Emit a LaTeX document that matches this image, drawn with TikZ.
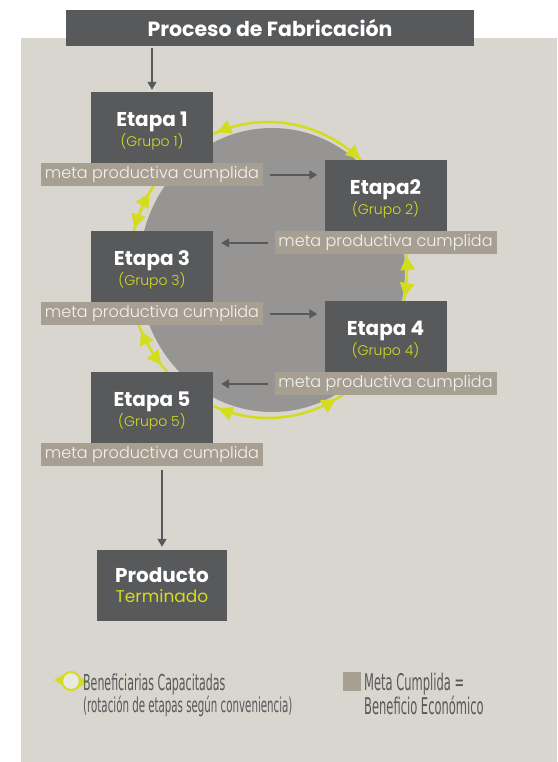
\documentclass[tikz,border=0pt]{standalone}
\usepackage{fontspec}
\setmainfont{Poppins}
\newfontfamily\ligera{Poppins Light}
\newfontfamily\estrecha{DejaVu Sans}[FakeStretch=0.5]
\usepackage{tikz}
\usetikzlibrary{arrows.meta,positioning,decorations.markings}
\definecolor{fondo}{RGB}{217,213,207}
\definecolor{cajagris}{RGB}{88,89,91}
\definecolor{metacafe}{RGB}{168,159,147}
\definecolor{circulogris}{RGB}{150,149,147}
\definecolor{amarillo}{RGB}{212,220,30}
\definecolor{textoclaro}{RGB}{245,243,240}
\definecolor{iconoclaro}{RGB}{234,232,228}
\tikzstyle{flecha} = [line width=1.5pt,-{Triangle[width=9pt,length=8pt]},color=cajagris]
\tikzstyle{etapa} = [fill=cajagris, text=white, minimum width=122pt, minimum height=71pt, inner sep=0pt, align=center, font=\fontsize{20}{17}\selectfont\bfseries]
\tikzstyle{meta} = [fill=metacafe, text=textoclaro, minimum width=222pt, minimum height=23pt, inner sep=0pt, font=\ligera\fontsize{16}{16}\selectfont]
\tikzstyle{anillo} = [draw=amarillo, color=amarillo, line width=2.5pt]
\tikzstyle{leyenda} = [text=cajagris, inner sep=0pt, align=left]
\tikzset{
  puntaA/.style={postaction={decorate,decoration={markings,mark=at position #1 with {\arrow{Triangle[width=14pt,length=14pt]}}}}},
  puntaB/.style={postaction={decorate,decoration={markings,mark=at position #1 with {\arrowreversed{Triangle[width=14pt,length=14pt]}}}}},
  puntaC/.style={postaction={decorate,decoration={markings,mark=at position #1 with {\arrowreversed{Triangle[width=10pt,length=9pt]}}}}}
}
\newcommand{\grupo}{\ligera\mdseries\fontsize{14}{17}\selectfont\color{amarillo}}
\newcommand{\etapatxt}[2]{\rule{0pt}{21.5pt}#1\\{\grupo #2}}

\begin{document}
\begin{tikzpicture}[x=1pt,y=-1pt]
    \useasboundingbox (0,0) rectangle (557,762);
    % Fondo
    \fill[white] (0,0) rectangle (557,762);
    \fill[fondo] (21,38) rectangle (557,762);

    % Circulo de rotacion
    \fill[circulogris] (272,270) ellipse[x radius=133, y radius=142];
    \draw[anillo, puntaA/.list={0.863,0.030,0.306,0.431,0.589}, puntaB/.list={0.692,0.9845,0.171,0.387,0.547}]
        (407,270) arc[start angle=0, end angle=360, x radius=139, y radius=148];

    % Titulo
    \node[fill=cajagris, text=white, minimum width=408pt, minimum height=36pt, inner sep=0pt,
          font=\fontsize{20.5}{20}\selectfont\bfseries] (titulo) at (270,28) {Proceso de Fabricación};

    % Etapas
    \node[etapa] (e1) at (152,127.5) {\etapatxt{Etapa 1}{(Grupo 1)}};
    \node[meta, anchor=north] (m1) at (e1.south) {meta productiva cumplida};
    \node[etapa] (e2) at (385.5,195.5) {\etapatxt{Etapa2}{(Grupo 2)}};
    \node[meta, anchor=north] (m2) at (e2.south) {meta productiva cumplida};
    \node[etapa] (e3) at (152,266.5) {\etapatxt{Etapa 3}{(Grupo 3)}};
    \node[meta, anchor=north] (m3) at (e3.south) {meta productiva cumplida};
    \node[etapa] (e4) at (385.5,336.5) {\etapatxt{Etapa 4}{(Grupo 4)}};
    \node[meta, anchor=north] (m4) at (e4.south) {meta productiva cumplida};
    \node[etapa] (e5) at (152,407.5) {\etapatxt{Etapa 5}{(Grupo 5)}};
    \node[meta, anchor=north] (m5) at (e5.south) {meta productiva cumplida};

    % Producto
    \node[etapa, minimum width=130pt, font=\fontsize{20}{20}\selectfont\bfseries] (prod) at (162,585.5)
        {Producto\\{\mdseries\fontsize{17}{20}\selectfont\color{amarillo}Terminado}};

    % Flechas
    \draw[flecha, shorten <=2pt, shorten >=2pt] (e1.north |- titulo.south) -- (e1.north);
    \draw[flecha, shorten <=7pt, shorten >=7pt] (m1.east) -- (m1.east -| e2.west);
    \draw[flecha, shorten <=6pt, shorten >=8pt] (m2.west) -- (m2.west -| e3.east);
    \draw[flecha, shorten <=7pt, shorten >=7pt] (m3.east) -- (m3.east -| e4.west);
    \draw[flecha, shorten <=6pt, shorten >=8pt] (m4.west) -- (m4.west -| e5.east);
    \draw[flecha, shorten <=3pt, shorten >=3pt] (prod.north |- m5.south) -- (prod.north);

    % Leyenda
    \draw[anillo, line width=2pt, fill=iconoclaro, puntaC/.list={0.17,0.67}]
        (71,681) ++(90:9) arc[start angle=90, end angle=450, radius=9];
    \node[leyenda, anchor=north west, font=\estrecha\fontsize{22}{14}\selectfont] (leyA) at (83,674)
        {Beneficiarias Capacitadas\\{\fontsize{20.5}{14}\selectfont (rotación de etapas según conveniencia)}};
    \node[fill=metacafe, minimum width=18pt, minimum height=19pt, inner sep=0pt] (cuadro) at (352,681.5) {};
    \node[leyenda, anchor=north west, font=\estrecha\fontsize{23}{22}\selectfont] (leyB) at (364,673)
        {Meta Cumplida =\\Beneficio Económico};
\end{tikzpicture}
\end{document}
